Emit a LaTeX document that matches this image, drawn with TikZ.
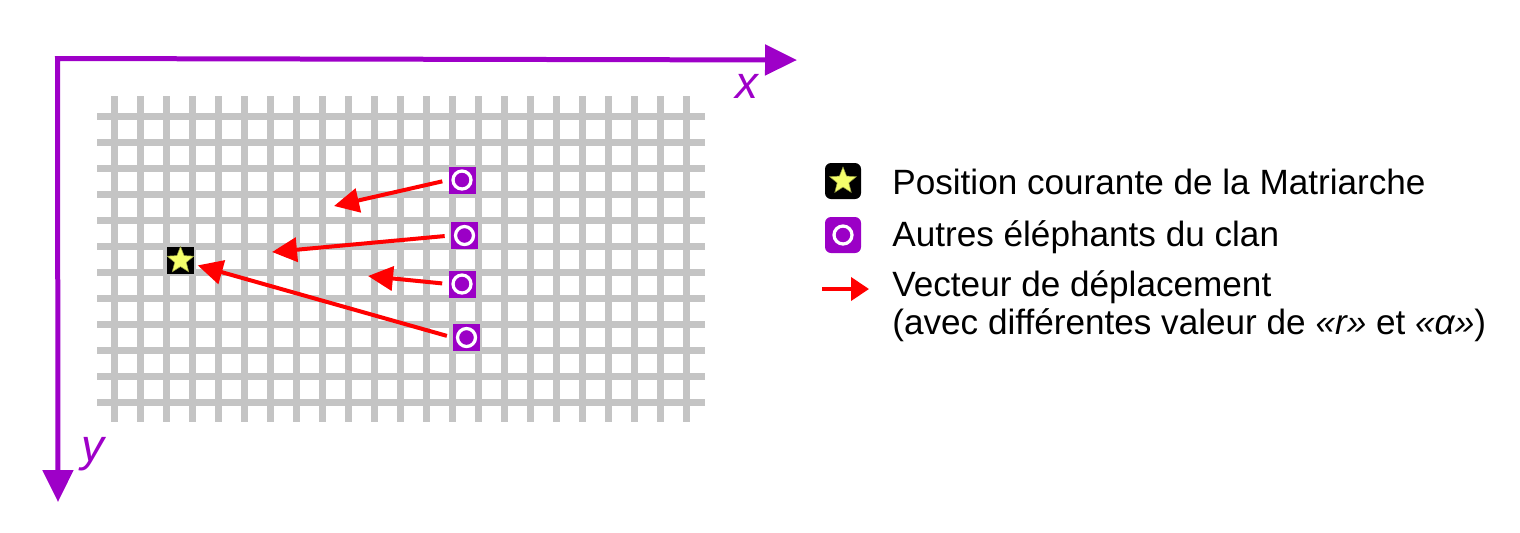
\documentclass[tikz,border=0pt]{standalone}
\usepackage{fontspec}
\setmainfont{Liberation Sans}
\usepackage{xcolor}
\usepackage{tikz}
\usetikzlibrary{arrows.meta,positioning,shapes.geometric}

\definecolor{axiscol}{HTML}{9E00C8}
\definecolor{elcol}{HTML}{9B00C6}
\definecolor{gridcol}{HTML}{C4C4C4}
\definecolor{starcol}{HTML}{F5FF6B}

\begin{document}
\begin{tikzpicture}[x=0.02cm, y=-0.02cm,
    axis/.style={draw=axiscol, line width=0.1cm,
                 {Triangle[length=0.64cm,width=0.6cm]}-{Triangle[length=0.64cm,width=0.6cm]}},
    gridline/.style={draw=gridcol, line width=0.14cm},
    vec/.style={draw=red, line width=0.08cm,
                -{Triangle[length=0.5cm,width=0.48cm]}, shorten <=0.12cm},
    matriarch/.style={fill=black, minimum size=0.54cm, inner sep=0pt},
    elephant/.style={fill=elcol, minimum size=0.54cm, inner sep=0pt,
                     path picture={\draw[white, line width=0.065cm]
                       (path picture bounding box.center) circle (0.18cm);}},
    staricon/.style={star, star points=5, star point ratio=2.3,
                     fill=starcol, draw=starcol!60!black, line width=0.3pt,
                     minimum size=0.56cm, inner sep=0pt},
    axislabel/.style={text=axiscol, font=\fontsize{26}{26}\selectfont\itshape, anchor=base},
    legendtext/.style={anchor=base west, align=left, inner xsep=0pt,
                       font=\fontsize{20}{21.6}\selectfont}]
  \useasboundingbox (0,0) rectangle (1520,532);

  % grid
  \foreach \i in {0,...,22}
    \draw[gridline] (114+26*\i,96) -- (114+26*\i,422);
  \foreach \j in {0,...,11}
    \draw[gridline] (97,116+26*\j) -- (705,116+26*\j);

  % axes
  \coordinate (orig) at (57.5,58.5);
  \coordinate (xtip) at (797,60);
  \coordinate (ytip) at (58,502);
  \draw[axis] (xtip) -- (orig) -- (ytip);
  \node[axislabel] (xlab) at (747,98) {x};
  \node[axislabel] (ylab) at (93,461) {y};

  % matriarch and clan
  \node[matriarch] (mat) at (180.5,260.5) {};
  \node[staricon] (matstar) at (mat) {};
  \node[elephant] (el1) at (462,180) {};
  \node[elephant] (el2) at (464.5,235.5) {};
  \node[elephant] (el3) at (462,284) {};
  \node[elephant] (el4) at (466.5,337.5) {};

  % displacement vectors
  \coordinate (t1) at (334,206);
  \coordinate (t2) at (272,252);
  \coordinate (t3) at (368,276);
  \draw[vec] (el1.west) -- (t1);
  \draw[vec] (el2.west) -- (t2);
  \draw[vec] (el3.west) -- (t3);
  \draw[vec, shorten >=2pt] (el4.west) -- (mat);

  % legend
  \node[matriarch, minimum size=0.72cm, rounded corners=0.12cm] (legmat) at (843,181) {};
  \node[staricon] (legstar) at (legmat) {};
  \node[elephant, minimum size=0.72cm, rounded corners=0.12cm] (legel) at (843,235) {};
  \coordinate (lvs) at (822,289);
  \coordinate (lve) at (869,289);
  \draw[vec, shorten <=0pt, -{Triangle[length=0.36cm,width=0.46cm]}] (lvs) -- (lve);

  \node[legendtext] (txtmat) at (892,194) {Position courante de la Matriarche};
  \node[legendtext] (txtel) at (892,246) {Autres éléphants du clan};
  \node[legendtext] (txtvec) at (892,334)
    {Vecteur de déplacement\\(avec différentes valeur de \textit{«r»} et \textit{«α»})};
\end{tikzpicture}
\end{document}
